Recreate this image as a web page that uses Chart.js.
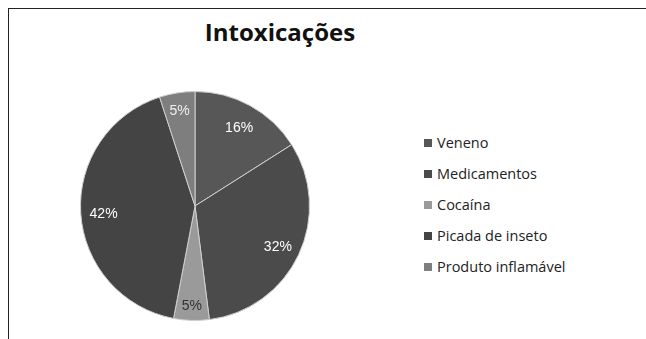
<!DOCTYPE html>
<html>
<head>
<meta charset="utf-8">
<script src="https://cdn.jsdelivr.net/npm/chart.js@4/dist/chart.umd.min.js"></script>
<style>
  body { margin: 0; background: #fff; }
  #wrap { position: relative; width: 646px; height: 339px; overflow: hidden; }
  #frame { position: absolute; left: 8px; top: 8px; right: -2px; bottom: -2px; border-top: 1px solid #222; border-left: 1px solid #222; }
  #title { position: absolute; left: 0; width: 560px; top: 15px; text-align: center; font: bold 24px "Open Sans", Lato, sans-serif; color: #111; }
  #legend { position: absolute; left: 424px; top: 133px; font: 14.5px "Open Sans", Lato, sans-serif; color: #222; }
  #legend div { height: 31px; display: flex; align-items: flex-start; }
  #legend span.box { display: inline-block; width: 8px; height: 8px; margin: 6px 5px 0 0; }
  canvas { position: absolute; left: 0; top: 0; }
</style>
</head>
<body>
<div id="wrap">
  <div id="frame"></div>
  <div id="title">Intoxicações</div>
  <div id="legend"></div>
  <canvas id="myChart1" width="646" height="339"></canvas>
</div>
<script>
var categories = ["Veneno", "Medicamentos", "Cocaína", "Picada de inseto", "Produto inflamável"];
var values = [16, 32, 5, 42, 5];
var colors = ["#575757", "#4b4b4b", "#9a9a9a", "#444444", "#7e7e7e"];
var labelColors = ["#fff", "#fff", "#333", "#fff", "#eee"];

// legend as html list
var leg = document.getElementById('legend');
categories.forEach(function (c, i) {
    var row = document.createElement('div');
    row.innerHTML = '<span class="box" style="background:' + colors[i] + '"></span>' + c;
    leg.appendChild(row);
});

// percent labels inside the slices
var pctLabels = {
    id: 'pctLabels',
    afterDatasetsDraw: function (chart) {
        var ctx = chart.ctx;
        var total = values.reduce(function (a, b) { return a + b; }, 0);
        chart.getDatasetMeta(0).data.forEach(function (arc, i) {
            var mid = (arc.startAngle + arc.endAngle) / 2;
            var r = arc.outerRadius * (values[i] < 10 ? 0.86 : 0.8);
            ctx.save();
            ctx.font = '14px "Liberation Sans", Arial, sans-serif';
            ctx.fillStyle = labelColors[i];
            ctx.textAlign = 'center';
            ctx.textBaseline = 'middle';
            ctx.fillText(Math.round(values[i] / total * 100) + '%', arc.x + Math.cos(mid) * r, arc.y + Math.sin(mid) * r + 2);
            ctx.restore();
        });
    }
};

var pie = document.getElementById('myChart1').getContext('2d');
var myChart1 = new Chart(pie, {
    type: 'pie',
    data: {
        labels: categories,
        datasets: [{
            data: values,
            backgroundColor: colors,
            borderColor: "#cfcfcf",
            borderWidth: 1
        }]
    },
    options: {
        responsive: false,
        animation: false,
        layout: { padding: { left: 80, top: 91, right: 336, bottom: 18 } },
        plugins: {
            legend: { display: false },
            tooltip: { enabled: false }
        }
    },
    plugins: [pctLabels]
});
</script>
</body>
</html>
